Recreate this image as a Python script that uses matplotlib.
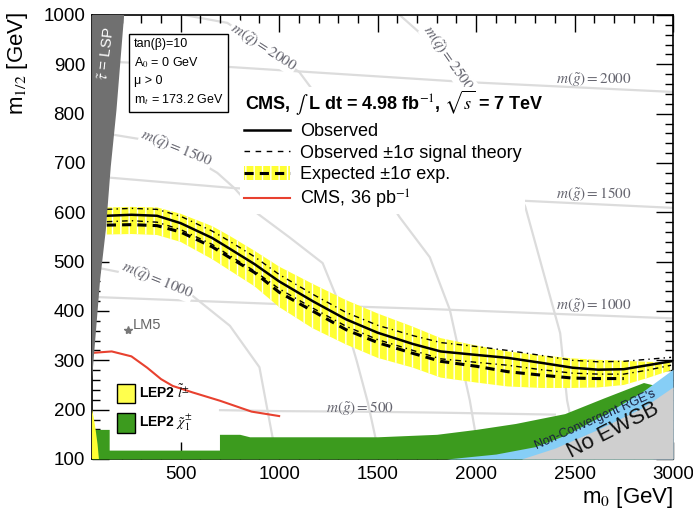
import matplotlib.pyplot as plt
from matplotlib.patches import Patch
from matplotlib.lines import Line2D
from matplotlib.ticker import MultipleLocator

plt.rcParams['font.family'] = ['Liberation Sans', 'DejaVu Sans']
plt.rcParams['mathtext.fontset'] = 'stix'
plt.rcParams['hatch.linewidth'] = 1.0

# limit curves (m0, m1/2 in GeV)
m0_lim = [125, 250, 380, 500, 660, 750, 875, 1000, 1170, 1340, 1500, 1680, 1820,
          2000, 2160, 2330, 2490, 2620, 2750, 2870, 2990]
obs = [593, 595, 593, 578, 548, 526, 495, 460, 420, 383, 356, 333, 318,
       311, 305, 295, 285, 281, 282, 290, 298]
theo_up = [606, 608, 606, 592, 562, 541, 510, 474, 434, 397, 371, 350, 336,
           328, 320, 310, 300, 297, 298, 302, 306]
theo_dn = [581, 583, 580, 565, 535, 512, 481, 445, 406, 369, 342, 320, 303,
           296, 290, 281, 274, 272, 272, 280, 290]
band_hi = [610, 611, 610, 597, 572, 552, 522, 490, 455, 422, 395, 368, 345,
           330, 318, 310, 304, 301, 299, 297, 296]
band_lo = [555, 556, 554, 540, 505, 482, 450, 408, 365, 332, 305, 285, 265,
           255, 247, 244, 244, 245, 250, 264, 280]
m0_exp = [125, 250, 380, 500, 660, 750, 875, 1000, 1170, 1340, 1500, 1680, 1820,
          2000, 2160, 2330, 2490, 2620, 2750]
exp = [574, 575, 573, 560, 530, 508, 478, 438, 400, 362, 336, 314, 298,
       288, 277, 270, 264, 263, 263]

# CMS 36 pb-1
m0_old = [50, 150, 250, 330, 400, 460, 560, 700, 860, 1000]
old = [315, 318, 308, 285, 262, 248, 235, 218, 196, 187]

# excluded / unphysical regions
m0_tau = [50, 213, 174, 145, 120, 91, 50]
tau = [1000, 1000, 807, 692, 564, 463, 262]
m0_lepsl = [50, 50, 58, 68, 78, 85]
lepsl = [100, 200, 185, 160, 130, 100]
m0_lepch = [50, 137, 137, 697, 697, 800, 850, 1500, 1800, 2000, 2200, 2450, 2650, 2850, 2900]
lepch = [160, 160, 118, 118, 150, 150, 145, 145, 150, 160, 172, 192, 224, 255, 250]
m0_rge = [1850, 1900, 2100, 2300, 2450, 2650, 2850, 3000]
rge = [100, 102, 110, 125, 148, 190, 238, 282]
m0_ewsb = [2230, 2400, 2630, 2850, 3000]
ewsb = [100, 122, 162, 205, 246]

# iso-mass lines
sq1000 = ([86, 250, 381, 544, 750, 900, 966, 1000], [487, 474, 463, 436, 370, 286, 145, 100])
sq1500 = ([100, 162, 315, 477, 686, 773, 885, 1050, 1221, 1320, 1393, 1450, 1495, 1510],
          [765, 757, 747, 730, 680, 649, 599, 550, 497, 400, 300, 215, 132, 100])
sq2000 = ([518, 737, 920, 1103, 1358, 1612, 1765, 1867, 1968, 2009, 2015],
          [1000, 984, 935, 884, 747, 590, 509, 402, 219, 124, 100])
sq2500 = ([1612, 1857, 1969, 2157, 2250, 2427, 2462, 2513, 2520],
          [1000, 913, 862, 692, 611, 355, 219, 118, 100])
gl500 = ([700, 1000, 1400, 1800, 2400], [199, 197, 196, 194, 190])
gl1000 = ([86, 1000, 1765, 2935, 3000], [428, 414, 404, 386, 385])
gl1500 = ([147, 773, 2157, 3000], [670, 649, 625, 609])
gl2000 = ([150, 732, 1953, 3000], [905, 895, 864, 844])

fig = plt.figure(figsize=(6.93, 5.13), dpi=100)
ax = fig.add_axes([0.1328, 0.1053, 0.8384, 0.8655])

grey = '#dcdcdc'
for xs, ys in [sq1000, sq1500, sq2000, sq2500, gl500, gl1000, gl1500, gl2000]:
    ax.plot(xs, ys, color=grey, lw=1.6, zorder=1)

lab_kw = dict(color='#666670', fontsize=11, ha='center', va='center', zorder=2)
box_kw = dict(fc='white', ec='none', pad=0.5)
ax.text(381, 463, r'$\mathit{m}(\tilde{q}) = \mathit{1000}$', rotation=-22, bbox=box_kw, **lab_kw)
ax.text(477, 730, r'$\mathit{m}(\tilde{q}) = \mathit{1500}$', rotation=-22, bbox=box_kw, **lab_kw)
ax.text(920, 935, r'$\mathit{m}(\tilde{q}) = \mathit{2000}$', rotation=-33, bbox=box_kw, **lab_kw)
ax.text(1857, 913, r'$\mathit{m}(\tilde{q}) = \mathit{2500}$', rotation=-55, bbox=box_kw, **lab_kw)
ax.text(1409, 203, r'$\mathit{m}(\tilde{g}) = \mathit{500}$', **lab_kw)
ax.text(2600, 412, r'$\mathit{m}(\tilde{g}) = \mathit{1000}$', **lab_kw)
ax.text(2600, 637, r'$\mathit{m}(\tilde{g}) = \mathit{1500}$', **lab_kw)
ax.text(2600, 870, r'$\mathit{m}(\tilde{g}) = \mathit{2000}$', **lab_kw)

yellow = '#ffff33'
ax.fill_between(m0_lim, band_lo, band_hi, facecolor=yellow, edgecolor='white',
                hatch='||', linewidth=0, zorder=3)
ax.plot(m0_lim, theo_up, color='k', lw=1, ls=(0, (4, 3, 1, 3)), zorder=4)
ax.plot(m0_lim, theo_dn, color='k', lw=1, ls=(0, (4, 3, 1, 3)), zorder=4)
ax.plot(m0_exp, exp, color='k', lw=2.2, ls=(0, (3, 2)), zorder=4)
ax.plot(m0_lim, obs, color='k', lw=1.8, zorder=4)
ax.plot(m0_old, old, color='#e8412f', lw=1.5, zorder=4)

green = '#3c9b1e'
ax.fill_between(m0_lepch, 100, lepch, color=green, lw=0, zorder=5)
ax.fill_between(m0_rge, 100, rge, color='#86cef6', lw=0, zorder=5)
ax.fill_between(m0_ewsb, 100, ewsb, color='#cfcfcf', lw=0, zorder=5)
ax.fill(m0_lepsl, lepsl, color=yellow, lw=0, zorder=5)
ax.fill(m0_tau, tau, color='#707070', lw=0, zorder=6)

ax.text(126, 921, r'$\tilde{\tau}$ = LSP', color='white', rotation=83, fontsize=11,
        ha='center', va='center', zorder=7)
ax.text(2605, 179, "Non-Convergent RGE's", rotation=24, fontsize=9, color='#1a2040',
        ha='center', va='center', zorder=7)
ax.text(2696, 157, 'No EWSB', rotation=27, fontsize=16, color='#111111',
        ha='center', va='center', zorder=7)

ax.plot([233], [361], marker='*', color='#777777', ms=6, ls='none', zorder=4)
ax.text(259, 372, 'LM5', color='#666666', fontsize=10.5, ha='left', va='center', zorder=4)

ax.text(0.072, 0.948, 'tan(β)=10\nA$_0$ = 0 GeV\nμ > 0\nm$_t$ = 173.2 GeV',
        transform=ax.transAxes, fontsize=9, ha='left', va='top', linespacing=1.5,
        bbox=dict(fc='white', ec='black', lw=1, boxstyle='square,pad=0.35'), zorder=8)

ax.text(0.263, 0.802, r'CMS, $\int$ L dt = 4.98 fb$^{-1}$, $\sqrt{s}$ = 7 TeV',
        transform=ax.transAxes, fontsize=13, fontweight='bold', ha='left', va='center',
        bbox=dict(fc='white', ec='none', pad=1), zorder=8)

handles = [Line2D([], [], color='k', lw=1.8),
           Line2D([], [], color='k', lw=1, ls=(0, (4, 4))),
           (Patch(facecolor=yellow, edgecolor='white', hatch='||', lw=0),
            Line2D([], [], color='k', lw=2.2, ls=(0, (3, 2)))),
           Line2D([], [], color='#e8412f', lw=1.5)]
labels = ['Observed', 'Observed ±1σ signal theory', 'Expected ±1σ exp.', 'CMS, 36 pb$^{-1}$']
leg = ax.legend(handles, labels, loc='upper left', bbox_to_anchor=(0.255, 0.765), fontsize=13,
                frameon=True, framealpha=1, facecolor='white', edgecolor='none', fancybox=False,
                borderpad=0.2, handlelength=2.55, handletextpad=0.55, labelspacing=0.24,
                handleheight=0.8, borderaxespad=0)
leg.set_zorder(8)
ax.add_artist(leg)

lep = ax.legend([Patch(facecolor='#ffff4d', edgecolor='black', lw=1),
                 Patch(facecolor=green, edgecolor='black', lw=1)],
                [r'LEP2 $\tilde{l}^{\pm}$', r'LEP2 $\tilde{\chi}^{\pm}_{1}$'],
                loc='upper left', bbox_to_anchor=(0.043, 0.17), frameon=False,
                prop={'weight': 'bold', 'size': 10}, handlelength=1.3, handleheight=1.8,
                handletextpad=0.3, labelspacing=0.65, borderpad=0, borderaxespad=0)
lep.set_zorder(8)

ax.set_xlim(50, 3000)
ax.set_ylim(100, 1000)
ax.xaxis.set_major_locator(MultipleLocator(500))
ax.xaxis.set_minor_locator(MultipleLocator(100))
ax.yaxis.set_major_locator(MultipleLocator(100))
ax.yaxis.set_minor_locator(MultipleLocator(20))
ax.tick_params(which='both', direction='in', top=True, right=True, labelsize=13.5, width=1)
ax.tick_params(which='major', length=12, pad=5)
ax.tick_params(which='minor', length=6)
for s in ax.spines.values():
    s.set_linewidth(1.2)

ax.set_xlabel('m$_0$ [GeV]', fontsize=16)
ax.set_ylabel('m$_{1/2}$ [GeV]', fontsize=16)
ax.xaxis.set_label_coords(0.921, -0.058)
ax.yaxis.set_label_coords(-0.107, 0.89)

fig.savefig('out.png', dpi=100, facecolor='white')
